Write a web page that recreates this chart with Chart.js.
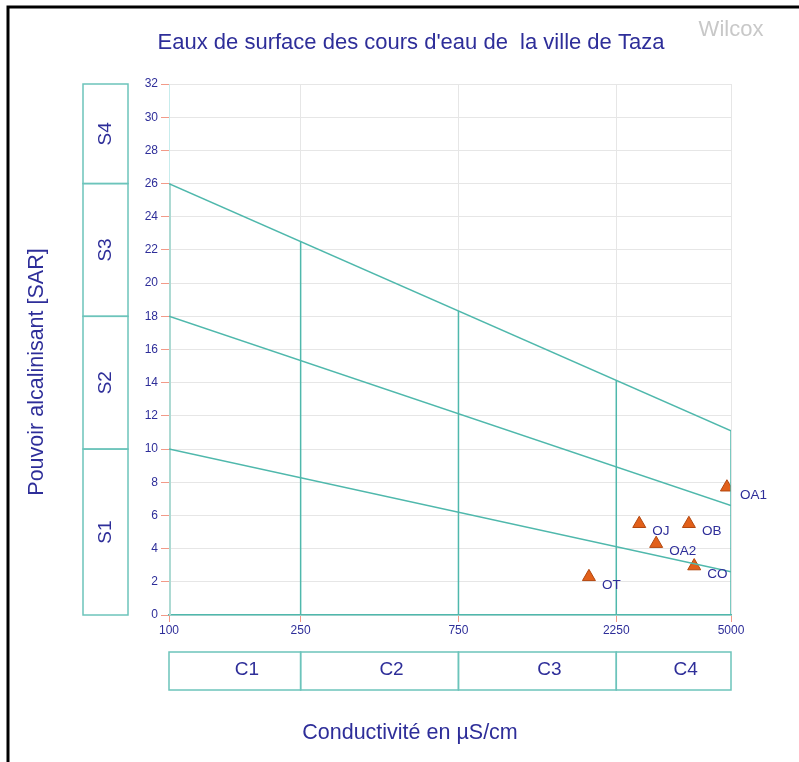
<!DOCTYPE html>
<html>
<head>
<meta charset="utf-8">
<script src="https://cdn.jsdelivr.net/npm/chart.js@4.4.1/dist/chart.umd.min.js"></script>
<style>
  html, body { margin: 0; padding: 0; background: #fff; }
  #wrap { position: relative; width: 799px; height: 762px; }
</style>
</head>
<body>
<div id="wrap"><canvas id="wilcox" width="799" height="762"></canvas></div>
<script>
const sampleNames = ['OA1', 'OJ', 'OB', 'OA2', 'CO', 'OT']
const sampleEC = [4860, 2640, 3730, 2970, 3870, 1860]
const sampleSAR = [7.7, 5.5, 5.5, 4.3, 2.95, 2.3]

const ecTicks = [100, 250, 750, 2250, 5000]
const ecClasses = ['C1', 'C2', 'C3', 'C4']
const sarBounds = [0, 10, 18, 26, 32]
const sarClasses = ['S1', 'S2', 'S3', 'S4']

// S class limits: SAR at 100 and at 5000 µS/cm
const lineStart = [10, 18, 26]
const lineEnd = [2.6, 6.6, 11.1]

const teal = '#4fb8ac'
const boxTeal = '#6cc4bb'
const blue = '#2e2e99'
const font = 'Arial, "Liberation Sans"'

const ecMin = ecTicks[0]
const ecMax = ecTicks[ecTicks.length - 1]

function sarOnLine(i, ec) {
  const t = (Math.log10(ec) - Math.log10(ecMin)) / (Math.log10(ecMax) - Math.log10(ecMin))
  return lineStart[i] + (lineEnd[i] - lineStart[i]) * t
}

const segment = (pts, color, width) => ({
  data: pts,
  showLine: true,
  borderColor: color,
  borderWidth: width,
  pointRadius: 0,
  pointHoverRadius: 0,
})

const datasets = []
lineStart.forEach((s, i) => {
  datasets.push(segment([{ x: ecMin, y: s }, { x: ecMax, y: lineEnd[i] }], teal, 1.5))
})
ecTicks.slice(1).forEach((ec) => {
  datasets.push(segment([{ x: ec, y: 0 }, { x: ec, y: sarOnLine(2, ec) }], teal, 1.5))
})
datasets.push(segment([{ x: ecMin, y: 0 }, { x: ecMin, y: lineStart[2] }], '#addad3', 4))
datasets.push(segment([{ x: ecMin, y: lineStart[2] }, { x: ecMin, y: sarBounds[4] }], '#bdeeee', 1.5))

datasets.push({
  data: sampleNames.map((n, i) => ({ x: sampleEC[i], y: sampleSAR[i] })),
  pointStyle: 'triangle',
  pointRadius: 7.5,
  backgroundColor: '#e2601a',
  borderColor: '#b2470f',
  borderWidth: 1,
})

const decor = {
  id: 'decor',
  afterDraw(chart) {
    const { ctx } = chart
    const xs = chart.scales.x
    const ys = chart.scales.y
    ctx.save()

    // frame
    ctx.strokeStyle = '#000'
    ctx.lineWidth = 3
    ctx.beginPath()
    ctx.moveTo(8, 762)
    ctx.lineTo(8, 7)
    ctx.lineTo(799, 7)
    ctx.stroke()

    ctx.textAlign = 'center'
    ctx.textBaseline = 'middle'
    ctx.font = `22px ${font}`
    ctx.fillStyle = blue
    ctx.fillText("Eaux de surface des cours d'eau de  la ville de Taza", 411, 43)
    ctx.fillStyle = '#c8c8c8'
    ctx.fillText('Wilcox', 731, 30)

    ctx.fillStyle = blue
    ctx.font = `21.5px ${font}`
    ctx.fillText('Conductivité en µS/cm', 410, 733)
    ctx.save()
    ctx.translate(37, 372)
    ctx.rotate(-Math.PI / 2)
    ctx.fillText('Pouvoir alcalinisant [SAR]', 0, 0)
    ctx.restore()

    // S class boxes
    ctx.strokeStyle = boxTeal
    ctx.lineWidth = 1.5
    ctx.font = `19px ${font}`
    sarClasses.forEach((name, i) => {
      const y0 = ys.getPixelForValue(sarBounds[i])
      const y1 = ys.getPixelForValue(sarBounds[i + 1])
      ctx.strokeRect(83, y1, 45, y0 - y1)
      ctx.save()
      ctx.translate(105.5, (y0 + y1) / 2)
      ctx.rotate(-Math.PI / 2)
      ctx.fillText(name, 0, 0)
      ctx.restore()
    })

    // C class boxes
    ecClasses.forEach((name, i) => {
      const x0 = xs.getPixelForValue(ecTicks[i])
      const x1 = xs.getPixelForValue(ecTicks[i + 1])
      ctx.strokeRect(x0, 652, x1 - x0, 38)
      ctx.fillText(name, (x0 + x1) / 2 + 12, 670)
    })

    // sample labels
    ctx.textAlign = 'left'
    ctx.font = `13.5px ${font}`
    sampleNames.forEach((n, i) => {
      const px = xs.getPixelForValue(sampleEC[i])
      const py = ys.getPixelForValue(sampleSAR[i])
      ctx.fillText(n, px + 13, py + 8)
    })
    ctx.restore()
  },
}

new Chart(document.getElementById('wilcox'), {
  type: 'scatter',
  data: { datasets },
  options: {
    responsive: false,
    animation: false,
    layout: { padding: { top: 84, right: 68, left: 0, bottom: 0 } },
    plugins: { legend: { display: false }, tooltip: { enabled: false } },
    scales: {
      x: {
        type: 'logarithmic',
        min: ecMin,
        max: ecMax,
        afterBuildTicks: (scale) => {
          scale.ticks = ecTicks.map((v) => ({ value: v }))
        },
        afterFit: (scale) => {
          scale.height = 147
        },
        ticks: {
          callback: (v) => String(v),
          color: blue,
          font: { family: font, size: 12 },
          padding: 1,
          maxRotation: 0,
          autoSkip: false,
        },
        grid: { color: '#e6e6e6', tickColor: '#f29a88', tickLength: 7 },
        border: { color: teal, width: 1.5 },
      },
      y: {
        min: 0,
        max: 32,
        afterFit: (scale) => {
          scale.width = 169
        },
        ticks: {
          stepSize: 2,
          color: blue,
          font: { family: font, size: 12 },
          padding: 3,
        },
        grid: { color: '#e6e6e6', tickColor: '#f29a88', tickLength: 8 },
        border: { display: false },
      },
    },
  },
  plugins: [decor],
})
</script>
</body>
</html>
